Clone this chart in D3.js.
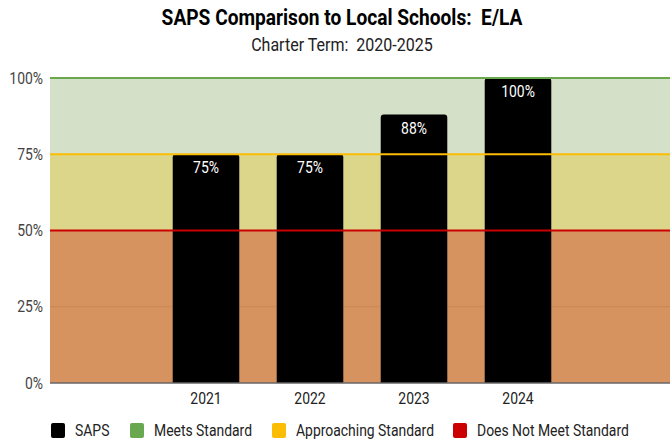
<!DOCTYPE html>
<html>
<head>
<meta charset="utf-8">
<script src="https://cdn.jsdelivr.net/npm/d3@7"></script>
<style>
  html, body { margin: 0; padding: 0; background: #fff; }
  svg { display: block; font-family: Roboto, "Noto Sans", sans-serif; }
  text { white-space: pre; }
</style>
</head>
<body>
<svg id="chart" width="670" height="440"></svg>
<script>
// Data
const years = ["2021", "2022", "2023", "2024"];
const sapsValues = [75, 75, 88, 100];
const yTicks = [0, 25, 50, 75, 100];

// Performance bands: [from, to]
const bandNames = ["Does Not Meet Standard", "Approaching Standard", "Meets Standard"];
const bandRanges = [[0, 50], [50, 75], [75, 100]];
const bandFills = ["#d6935f", "#dcd68b", "#d4e0c7"];
const thresholdValues = [50, 75, 100];
const thresholdColors = ["#cc0000", "#fbbc04", "#6aa84f"];

const legendNames = ["SAPS", "Meets Standard", "Approaching Standard", "Does Not Meet Standard"];
const legendColors = ["#000000", "#6aa84f", "#fbbc04", "#cc0000"];

const svg = d3.select("#chart");
const W = 670, H = 440;
const margin = { top: 78, right: -4, bottom: 57, left: 50 };

const x = d3.scaleBand()
  .domain(["_l", ...years, "_r"])
  .range([margin.left, W - margin.right])
  .paddingInner(0).paddingOuter(0);

const y = d3.scaleLinear().domain([0, 100]).range([H - margin.bottom, margin.top]);

const x0 = margin.left, x1 = W;

// Narrow the glyphs a little for a condensed look
function condense(sel, k = 0.87) {
  sel.each(function () {
    const w = this.getComputedTextLength();
    d3.select(this).attr("textLength", w * k).attr("lengthAdjust", "spacingAndGlyphs");
  });
}

// Titles
svg.append("text").attr("x", 342).attr("y", 25).attr("text-anchor", "middle")
  .attr("font-size", 22).attr("font-weight", "bold").attr("fill", "#000")
  .text("SAPS Comparison to Local Schools:  E/LA").call(condense);
svg.append("text").attr("x", 342).attr("y", 51).attr("text-anchor", "middle")
  .attr("font-size", 18).attr("fill", "#222")
  .text("Charter Term:  2020-2025").call(condense, 0.89);

// Background bands
svg.append("g").selectAll("rect").data(bandRanges).join("rect")
  .attr("x", x0).attr("width", x1 - x0)
  .attr("y", d => y(d[1])).attr("height", d => y(d[0]) - y(d[1]))
  .attr("fill", (d, i) => bandFills[i]);

// Gridline at 25%
svg.append("line").attr("x1", x0).attr("x2", x1)
  .attr("y1", y(25)).attr("y2", y(25))
  .attr("stroke", "#c98652").attr("stroke-width", 1);

// Bars with slightly rounded tops
const bw = x.bandwidth() * 0.64;
const r = 3;
svg.append("g").selectAll("path").data(years).join("path")
  .attr("fill", "#000")
  .attr("d", (d, i) => {
    const cx = x(d) + x.bandwidth() / 2;
    const l = cx - bw / 2, rr = cx + bw / 2;
    const top = y(sapsValues[i]), bot = y(0);
    return `M${l},${bot}V${top + r}Q${l},${top} ${l + r},${top}H${rr - r}Q${rr},${top} ${rr},${top + r}V${bot}Z`;
  });

// Threshold lines
svg.append("g").selectAll("line").data(thresholdValues).join("line")
  .attr("x1", x0).attr("x2", x1)
  .attr("y1", d => y(d)).attr("y2", d => y(d))
  .attr("stroke", (d, i) => thresholdColors[i]).attr("stroke-width", 2);

// Baseline
svg.append("line").attr("x1", x0).attr("x2", x1)
  .attr("y1", y(0)).attr("y2", y(0))
  .attr("stroke", "#666").attr("stroke-width", 1.5);

// Value labels
svg.append("g").selectAll("text").data(years).join("text")
  .attr("x", d => x(d) + x.bandwidth() / 2)
  .attr("y", (d, i) => y(sapsValues[i]) + 19)
  .attr("text-anchor", "middle").attr("font-size", 16).attr("fill", "#fff")
  .text((d, i) => sapsValues[i] + "%").call(condense);

// Y axis labels
svg.append("g").selectAll("text").data(yTicks).join("text")
  .attr("x", 43).attr("y", d => y(d) + 5.5)
  .attr("text-anchor", "end").attr("font-size", 16).attr("fill", "#444")
  .text(d => d + "%").call(condense);

// X axis labels
svg.append("g").selectAll("text").data(years).join("text")
  .attr("x", d => x(d) + x.bandwidth() / 2)
  .attr("y", y(0) + 21)
  .attr("text-anchor", "middle").attr("font-size", 16).attr("fill", "#222")
  .text(d => d).call(condense);

// Legend
const legendX = [51, 130, 272, 453];
const lg = svg.append("g").selectAll("g").data(legendNames).join("g")
  .attr("transform", (d, i) => `translate(${legendX[i]},430)`);
lg.append("rect").attr("x", 0).attr("y", -7).attr("width", 14).attr("height", 15)
  .attr("rx", 2).attr("fill", (d, i) => legendColors[i]);
lg.append("text").attr("x", 24).attr("y", 5.5).attr("font-size", 16).attr("fill", "#222")
  .text(d => d).call(condense);
</script>
</body>
</html>
